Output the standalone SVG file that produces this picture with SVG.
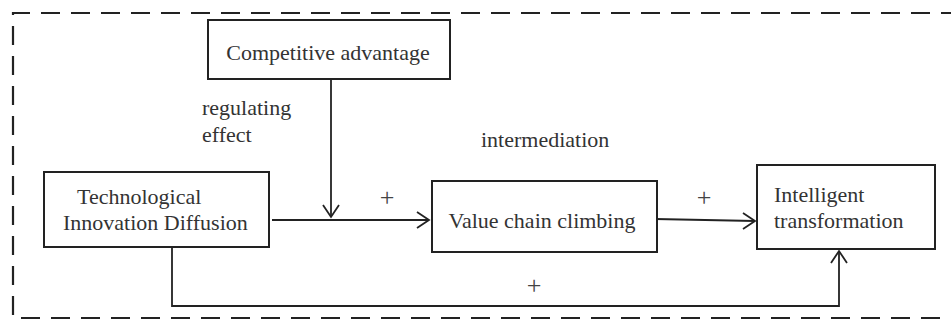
<svg xmlns="http://www.w3.org/2000/svg" width="951" height="322" viewBox="0 0 951 322">
<style>
.box{fill:#fff;stroke:#222;stroke-width:2}
.t{font-family:"Liberation Serif","Times New Roman",serif;font-size:22px;fill:#333}
.p{font-family:"Liberation Serif","Times New Roman",serif;font-size:26px;fill:#444}
.ln{fill:none;stroke:#222;stroke-width:1.8}
.ah{fill:none;stroke:#222;stroke-width:1.8}
.dash{fill:none;stroke:#222;stroke-width:2.2;stroke-dasharray:19 11}
</style>
<rect width="951" height="322" fill="#fff"/>
<path class="dash" d="M960,13 H13 V318 H960"/>
<g id="connectors">
  <path class="ln" d="M331,79 V216"/>
  <path class="ah" d="M323,205 L331,217 L339,205"/>
  <path class="ln" d="M272,220 H429"/>
  <path class="ah" d="M417,212 L429,220 L417,228"/>
  <path class="ln" d="M655,219 L755,221"/>
  <path class="ah" d="M743,213 L755,221 L743,229"/>
  <path class="ln" d="M172,247 V306 H839 V251"/>
  <path class="ah" d="M831,263 L839,251 L847,263"/>
  <text class="p" x="387" y="206" text-anchor="middle">+</text>
  <text class="p" x="704" y="206" text-anchor="middle">+</text>
  <text class="p" x="534" y="294" text-anchor="middle">+</text>
  <text class="t" x="202" y="115">regulating</text>
  <text class="t" x="202" y="142">effect</text>
  <text class="t" x="481" y="147">intermediation</text>
</g>
<g id="competitive">
  <rect class="box" x="208" y="20" width="242" height="59"/>
  <text class="t" x="328" y="60" text-anchor="middle">Competitive advantage</text>
</g>
<g id="tech">
  <rect class="box" x="44" y="172" width="225" height="75"/>
  <text class="t" x="77" y="204">Technological</text>
  <text class="t" x="63" y="230">Innovation Diffusion</text>
</g>
<g id="value">
  <rect class="box" x="432" y="181" width="225" height="71"/>
  <text class="t" x="542" y="228" text-anchor="middle">Value chain climbing</text>
</g>
<g id="intelligent">
  <rect class="box" x="757" y="165" width="178" height="84"/>
  <text class="t" x="774" y="202">Intelligent</text>
  <text class="t" x="774" y="228">transformation</text>
</g>
</svg>
